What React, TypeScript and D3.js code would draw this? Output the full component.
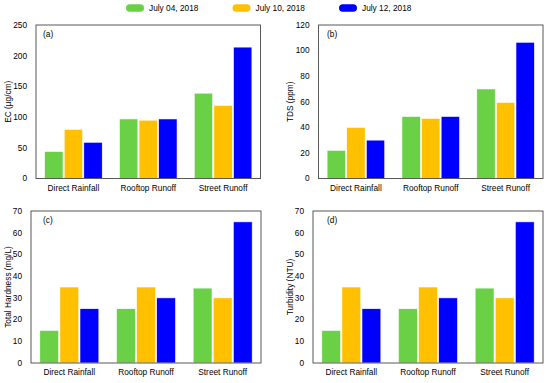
import * as d3 from 'd3';

const categories = ['Direct Rainfall', 'Rooftop Runoff', 'Street Runoff'];
const seriesNames = ['July 04, 2018', 'July 10, 2018', 'July 12, 2018'];
const seriesColors = ['#6ad146', '#ffc000', '#0000ff'];

// values per series, in category order
const ecValues = [
  [44, 97, 139],
  [80, 95, 119],
  [59, 97, 214],
];
const tdsValues = [
  [22, 48.5, 70],
  [40, 47, 59.5],
  [30, 48.5, 106.5],
];
const hardnessValues = [
  [15, 25, 34.5],
  [35, 35, 30],
  [25, 30, 65],
];
const turbidityValues = [
  [15, 25, 34.5],
  [35, 35, 30],
  [25, 30, 65],
];

const ecTicks = [0, 50, 100, 150, 200, 250];
const tdsTicks = [0, 20, 40, 60, 80, 100, 120];
const hardnessTicks = [0, 10, 20, 30, 40, 50, 60, 70];
const turbidityTicks = [0, 10, 20, 30, 40, 50, 60, 70];

const FONT = '"Liberation Sans", Arial, sans-serif';

interface PanelProps {
  tag: string;
  yTitle: string;
  values: number[][];
  ticks: number[];
  left: number;
  right: number;
  top: number;
  bottom: number;
  titleX: number;
  tagX: number;
}

function Panel({ tag, yTitle, values, ticks, left, right, top, bottom, titleX, tagX }: PanelProps) {
  const x0 = d3.scaleBand<string>().domain(categories).range([left, right]).padding(0);
  const groupW = x0.bandwidth() * 0.77;
  const x1 = d3
    .scaleBand<number>()
    .domain(d3.range(seriesNames.length))
    .range([0, groupW])
    .paddingInner(0.06);
  const y = d3
    .scaleLinear()
    .domain([0, ticks[ticks.length - 1]])
    .range([bottom, top]);

  return (
    <g>
      {values.map((vals, si) =>
        vals.map((v, ci) => {
          const gx = (x0(categories[ci]) ?? 0) + (x0.bandwidth() - groupW) / 2;
          return (
            <rect
              key={`${si}-${ci}`}
              x={gx + (x1(si) ?? 0)}
              y={y(v)}
              width={x1.bandwidth()}
              height={y(0) - y(v)}
              fill={seriesColors[si]}
              stroke="#ffffff"
              strokeWidth={0.6}
            />
          );
        })
      )}
      <rect
        x={left}
        y={top}
        width={right - left}
        height={bottom - top}
        fill="none"
        stroke="#595959"
        strokeWidth={1}
      />
      {ticks.map((t) => (
        <text
          key={t}
          x={left - 9}
          y={y(t)}
          dy="0.35em"
          textAnchor="end"
          fontSize={8.3}
          fontFamily={FONT}
          fill="#000"
        >
          {t}
        </text>
      ))}
      {categories.map((c) => (
        <text
          key={c}
          x={(x0(c) ?? 0) + x0.bandwidth() / 2}
          y={bottom + 12}
          textAnchor="middle"
          fontSize={8.3}
          fontFamily={FONT}
          fill="#000"
        >
          {c}
        </text>
      ))}
      <text
        transform={`translate(${titleX},${(top + bottom) / 2}) rotate(-90)`}
        textAnchor="middle"
        dy="0.35em"
        fontSize={8.3}
        fontFamily={FONT}
        fill="#000"
      >
        {yTitle}
      </text>
      <text x={tagX} y={top + 12} fontSize={8.3} fontFamily={FONT} fill="#000">
        {tag}
      </text>
    </g>
  );
}

export default function App() {
  const legendX = d3.scaleLinear().domain([0, 1]).range([126, 232.5]);
  return (
    <svg
      width={550}
      height={383}
      style={{ position: 'absolute', left: 0, top: 0, background: '#fff' }}
    >
      {seriesNames.map((s, i) => (
        <g key={s} transform={`translate(${legendX(i)},8)`}>
          <rect x={0} y={-3.8} width={18} height={7.6} rx={3.8} fill={seriesColors[i]} />
          <text x={23} y={0} dy="0.35em" fontSize={8.3} fontFamily={FONT} fill="#000">
            {s}
          </text>
        </g>
      ))}
      <Panel
        tag="(a)"
        yTitle="EC (µg/cm)"
        values={ecValues}
        ticks={ecTicks}
        left={36}
        right={260.5}
        top={25}
        bottom={178.5}
        titleX={8.5}
        tagX={43}
      />
      <Panel
        tag="(b)"
        yTitle="TDS (ppm)"
        values={tdsValues}
        ticks={tdsTicks}
        left={318.5}
        right={543}
        top={25}
        bottom={178.5}
        titleX={290}
        tagX={327}
      />
      <Panel
        tag="(c)"
        yTitle="Total Hardness (mg/L)"
        values={hardnessValues}
        ticks={hardnessTicks}
        left={31}
        right={261}
        top={211}
        bottom={363}
        titleX={8.5}
        tagX={43}
      />
      <Panel
        tag="(d)"
        yTitle="Turbidity (NTU)"
        values={turbidityValues}
        ticks={turbidityTicks}
        left={313}
        right={543}
        top={211}
        bottom={363}
        titleX={290}
        tagX={327}
      />
    </svg>
  );
}
